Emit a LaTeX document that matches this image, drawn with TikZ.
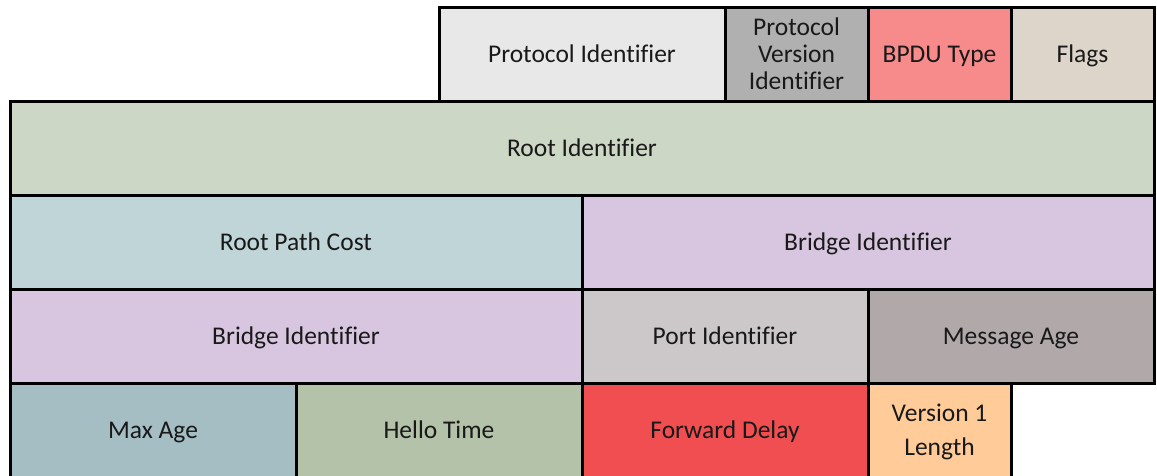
\documentclass[tikz,border=0pt]{standalone}
\usepackage{fontspec}
\setmainfont{Carlito}[Ligatures=NoCommon]
\usetikzlibrary{positioning}

\definecolor{protoid}{HTML}{E8E8E8}
\definecolor{protover}{HTML}{B0B0B0}
\definecolor{bpdutype}{HTML}{F78B8B}
\definecolor{flagsc}{HTML}{DDD5CA}
\definecolor{rootid}{HTML}{CCD7C5}
\definecolor{pathcost}{HTML}{C0D5D8}
\definecolor{bridgeid}{HTML}{D8C6E0}
\definecolor{portid}{HTML}{CCC7C8}
\definecolor{msgage}{HTML}{B1A8AA}
\definecolor{maxage}{HTML}{A4BEC4}
\definecolor{hellotime}{HTML}{B3C2A8}
\definecolor{fwddelay}{HTML}{F04E50}
\definecolor{verlen}{HTML}{FFCC99}

\begin{document}
\begin{tikzpicture}[
    x=1pt, y=1pt,
    field/.style={
        rectangle, draw=black, line width=3pt,
        outer sep=0pt, inner sep=2pt,
        minimum height=94pt,
        align=center, text depth=0pt,
        font=\fontsize{25.5}{27}\selectfont,
        text=black!90
    },
    one/.style  ={field, minimum width=143pt},
    two/.style  ={field, minimum width=286pt},
    four/.style ={field, minimum width=572pt},
    eight/.style={field, minimum width=1144pt},
]
\useasboundingbox (0,0) rectangle (1157,-475);

% ROW 1
\node[two, fill=protoid, anchor=north west] (protoid) at (439,-7) {Protocol Identifier};
\node[one, fill=protover, right=0pt of protoid] (protover) {Protocol\\Version\\Identifier};
\node[one, fill=bpdutype, right=0pt of protover] (bpdutype) {BPDU Type};
\node[one, fill=flagsc, right=0pt of bpdutype] (flags) {Flags};

% ROW 2
\node[eight, fill=rootid, anchor=north west] (rootid) at (10,-101) {Root Identifier};

% ROW 3
\node[four, fill=pathcost, below=0pt of rootid.south west, anchor=north west] (pathcost) {Root Path Cost};
\node[four, fill=bridgeid, right=0pt of pathcost] (bridgeA) {Bridge Identifier};

% ROW 4
\node[four, fill=bridgeid, below=0pt of pathcost] (bridgeB) {Bridge Identifier};
\node[two, fill=portid, right=0pt of bridgeB] (portid) {Port Identifier};
\node[two, fill=msgage, right=0pt of portid] (msgage) {Message Age};

% ROW 5
\node[two, fill=maxage, below=0pt of bridgeB.south west, anchor=north west] (maxage) {Max Age};
\node[two, fill=hellotime, right=0pt of maxage] (hellotime) {Hello Time};
\node[two, fill=fwddelay, right=0pt of hellotime] (fwddelay) {Forward Delay};
\node[one, fill=verlen, right=0pt of fwddelay] (verlen) {Version 1\\[7pt]Length};

\end{tikzpicture}
\end{document}
